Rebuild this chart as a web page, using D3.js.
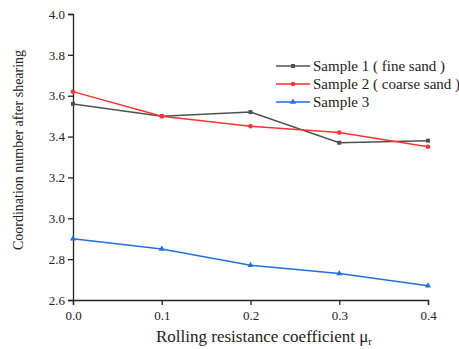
<!DOCTYPE html>
<html>
<head>
<meta charset="utf-8">
<script src="https://cdn.jsdelivr.net/npm/d3@7"></script>
<style>
  body { margin: 0; background: #fff; }
  svg text { font-family: "Liberation Serif", "DejaVu Serif", "Times New Roman", serif; }
</style>
</head>
<body>
<div id="container"></div>
<script>
var coef = [0.0, 0.1, 0.2, 0.3, 0.4];
var sample1 = [3.56, 3.50, 3.52, 3.37, 3.38];
var sample2 = [3.62, 3.50, 3.45, 3.42, 3.35];
var sample3 = [2.90, 2.85, 2.77, 2.73, 2.67];
var seriesNames = ["Sample 1 ( fine sand )", "Sample 2 ( coarse sand )", "Sample 3"];
var xTicks = [0.0, 0.1, 0.2, 0.3, 0.4];
var yTicks = [2.6, 2.8, 3.0, 3.2, 3.4, 3.6, 3.8, 4.0];

var width = 459, height = 349;
var margin = {left: 73, right: 31, top: 14, bottom: 49};
var serif = "'Liberation Serif', 'DejaVu Serif', serif";

var svg = d3.select("#container").append("svg")
    .attr("width", width)
    .attr("height", height)
    .attr("font-family", serif);

var x = d3.scaleLinear().domain([0, 0.4])
    .range([margin.left, width - margin.right]);
var y = d3.scaleLinear().domain([2.6, 4.0])
    .range([height - margin.bottom, margin.top]);

// axes
var xAxis = svg.append("g")
    .attr("transform", "translate(0," + (height - margin.bottom) + ")")
    .call(d3.axisBottom(x).tickValues(xTicks).tickFormat(d3.format(".1f")).tickSizeOuter(0).tickSize(5));
var yAxis = svg.append("g")
    .attr("transform", "translate(" + margin.left + ",0)")
    .call(d3.axisLeft(y).tickValues(yTicks).tickFormat(d3.format(".1f")).tickSizeOuter(0).tickSize(5));

[xAxis, yAxis].forEach(function(a) {
  a.attr("font-family", serif);
  a.select(".domain").attr("stroke", "#222").attr("stroke-width", 1.3);
  a.selectAll(".tick line").attr("stroke", "#222").attr("stroke-width", 1.3);
  a.selectAll(".tick text")
    .attr("fill", "#222")
    .style("font-family", serif)
    .style("font-size", "13px");
});
xAxis.selectAll(".tick text").attr("y", 11);

// axis titles
svg.append("text")
    .attr("x", 264).attr("y", 342)
    .attr("text-anchor", "middle")
    .attr("fill", "#222")
    .style("font-size", "17px")
    .html("Rolling resistance coefficient μ<tspan dy='3' font-size='11px'>r</tspan>");

svg.append("text")
    .attr("transform", "translate(23,150) rotate(-90)")
    .attr("text-anchor", "middle")
    .attr("fill", "#222")
    .style("font-size", "14px")
    .text("Coordination number after shearing");

var series = [
  {name: seriesNames[0], values: sample1, color: "#505050", symbol: d3.symbolSquare},
  {name: seriesNames[1], values: sample2, color: "#ff3030", symbol: d3.symbolCircle},
  {name: seriesNames[2], values: sample3, color: "#1f6fe0", symbol: d3.symbolTriangle}
];

var line = d3.line()
    .x(function(d, i) { return x(coef[i]); })
    .y(function(d) { return y(d); });

series.forEach(function(s) {
  svg.append("path")
      .datum(s.values)
      .attr("d", line)
      .attr("fill", "none")
      .attr("stroke", s.color)
      .attr("stroke-width", 1.5);
  svg.selectAll(null)
      .data(s.values)
      .join("path")
      .attr("transform", function(d, i) { return "translate(" + x(coef[i]) + "," + y(d) + ")"; })
      .attr("d", d3.symbol().type(s.symbol).size(16))
      .attr("fill", s.color);
});

// legend
var legend = svg.append("g").attr("transform", "translate(276,66)");
series.forEach(function(s, i) {
  var g = legend.append("g").attr("transform", "translate(0," + (i * 18) + ")");
  g.append("line").attr("x1", 0).attr("x2", 34)
      .attr("stroke", s.color).attr("stroke-width", 1.5);
  g.append("path").attr("transform", "translate(17,0)")
      .attr("d", d3.symbol().type(s.symbol).size(16))
      .attr("fill", s.color);
  g.append("text").attr("x", 37).attr("y", 5)
      .attr("fill", "#222")
      .style("font-size", "15px")
      .text(s.name);
});
</script>
</body>
</html>
